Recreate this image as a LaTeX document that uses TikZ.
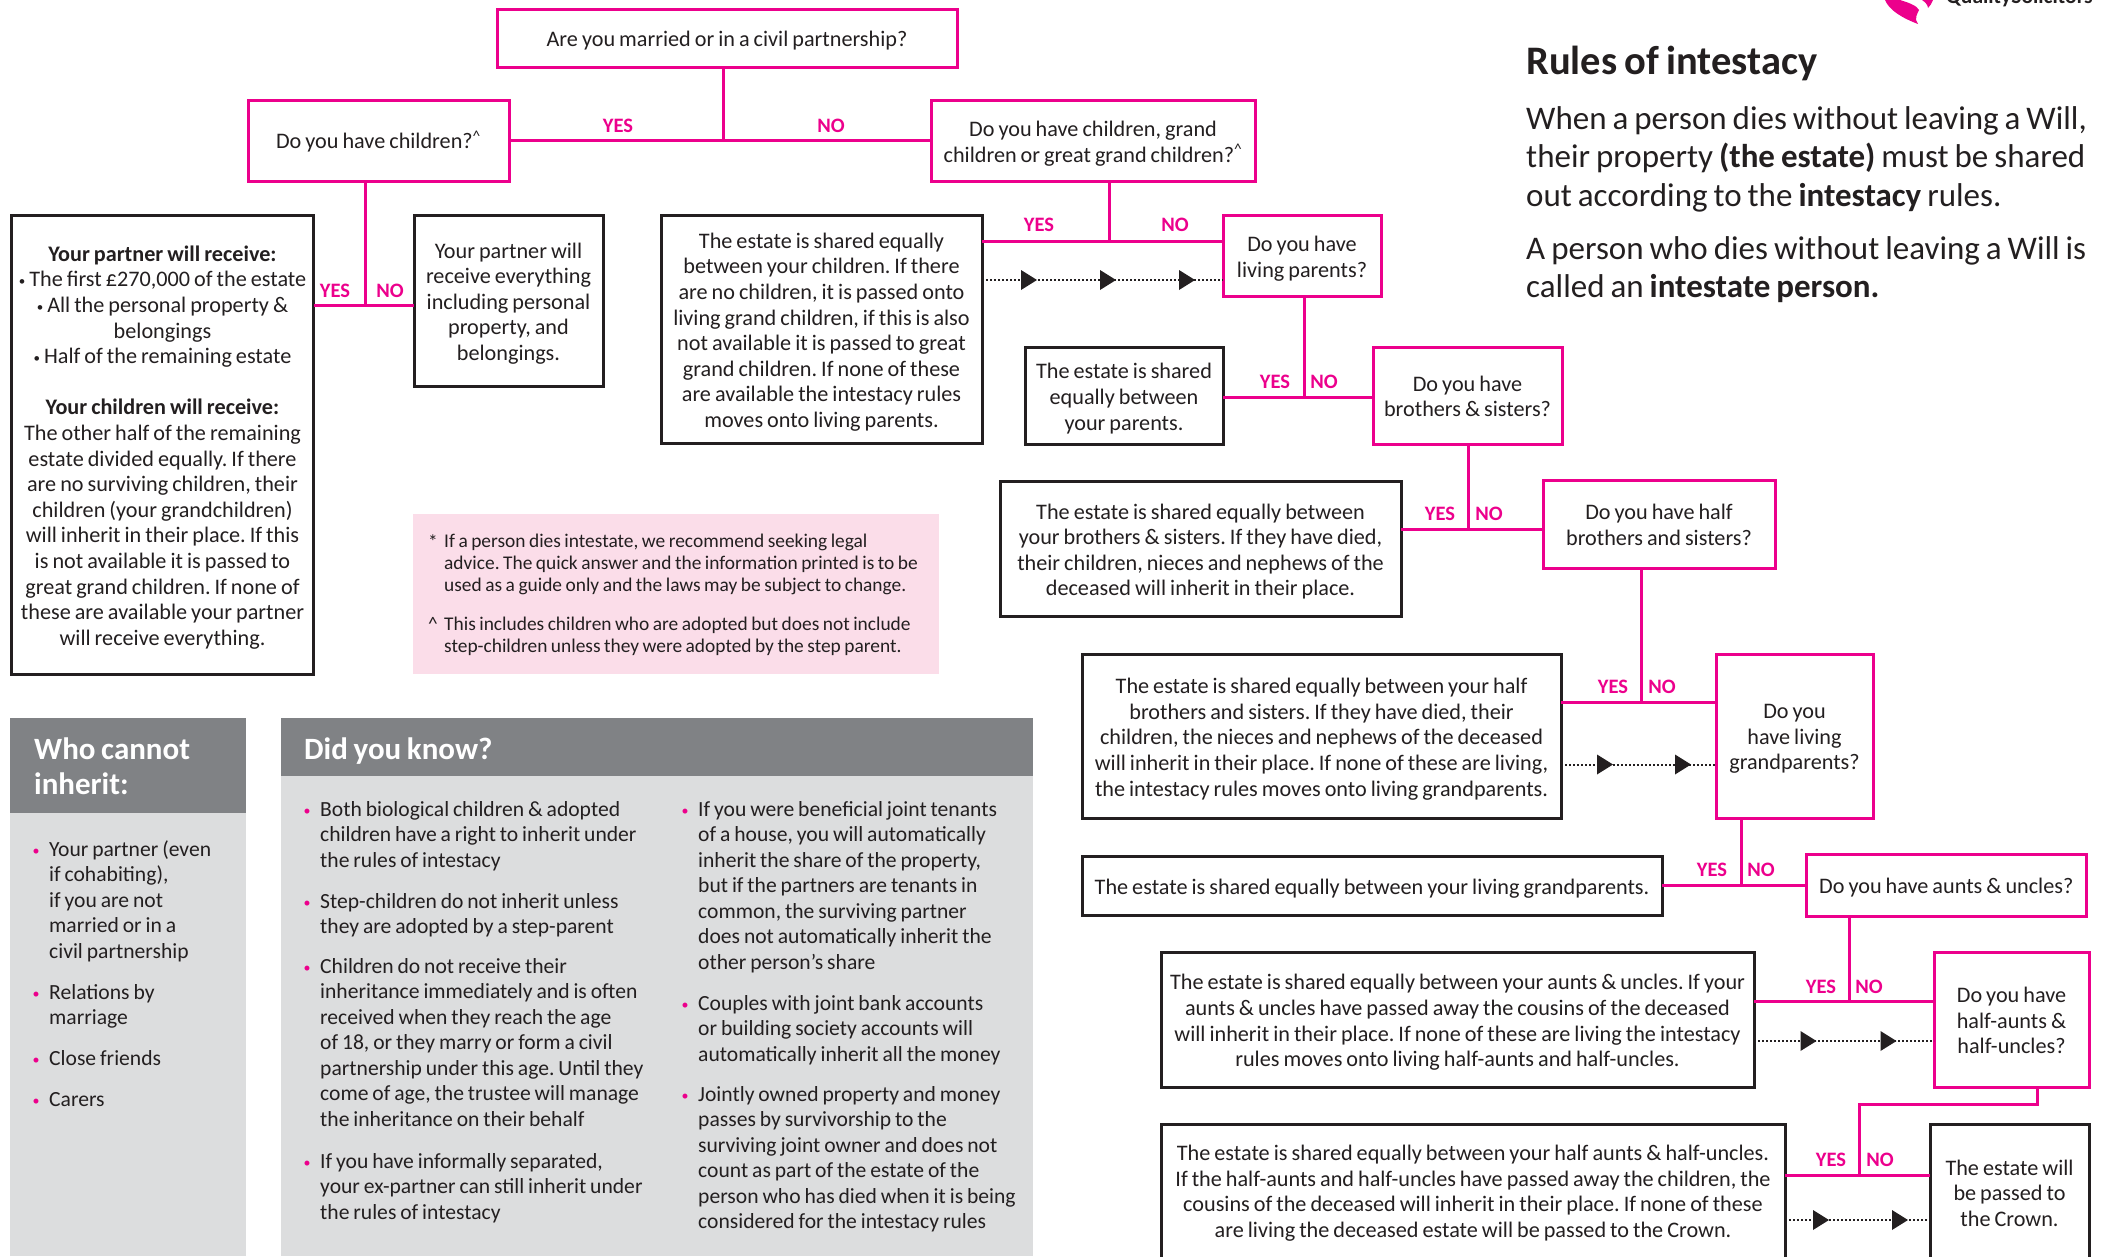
\documentclass[tikz,border=0pt]{standalone}
\usepackage{fontspec}
\setmainfont[WordSpace=0.8]{Carlito}
\AtBeginDocument{\frenchspacing}
\definecolor{qpink}{HTML}{EC008C}
\definecolor{ink}{HTML}{231F20}
\definecolor{greyhead}{HTML}{808285}
\definecolor{greybody}{HTML}{DCDDDE}
\definecolor{notepink}{HTML}{FBDDE9}
\newcommand\flow{\fontsize{22.2}{25.6}\selectfont}
\newcommand\sbul{\raisebox{1.5pt}{\fontsize{13}{13}\selectfont •}}
\tikzset{
  x=1pt,y=-1pt,
  base/.style={rectangle,inner sep=0pt,outer sep=0pt},
  qbox/.style={base,draw=qpink,line width=3pt,fill=white},
  abox/.style={base,draw=ink,line width=3pt,fill=white},
  btext/.style={inner sep=0pt,align=center,text=ink,font=\flow},
  conn/.style={draw=qpink,line width=3pt},
  dotl/.style={draw=ink,line width=2pt,dash pattern=on 2pt off 2pt},
  lab/.style={inner sep=0pt,text=qpink,font=\fontsize{20.5}{22}\selectfont\bfseries},
  li/.style={anchor=north west,inner sep=0pt,align=flush left,text=ink,font=\fontsize{21.6}{25.5}\selectfont},
  note/.style={anchor=north west,inner sep=0pt,align=left,text=ink,font=\fontsize{19.4}{21.8}\selectfont},
  body/.style={anchor=north west,inner sep=0pt,align=left,text=ink,font=\fontsize{33}{38.6}\selectfont},
  panelhead/.style={anchor=north west,inner sep=0pt,align=left,text=white,font=\fontsize{31}{35}\selectfont\bfseries},
}
% name, style, x1, y1, x2, y2, text
\newcommand\bx[7]{\node[#2,minimum width={(#5-#3)*1pt},minimum height={(#6-#4)*1pt}] (#1) at ({(#3+#5)/2},{(#4+#6)/2}) {};
  \node[btext] (#1t) at ({(#3+#5)/2},{(#4+#6)/2+3}) {#7};}
\newcommand\bxu[7]{\node[#2,minimum width={(#5-#3)*1pt},minimum height={(#6-#4)*1pt}] (#1) at ({(#3+#5)/2},{(#4+#6)/2}) {};
  \node[btext] (#1t) at ({(#3+#5)/2},{(#4+#6)/2+1}) {#7};}
\newcommand\tip[2]{\fill[ink] (#1,#2-10) -- (#1+16,#2) -- (#1,#2+10) -- cycle;}
\newcommand\lst[5]{\node[inner sep=0pt,text=qpink,font=\fontsize{14}{14}\selectfont] (#1b) at (#2,{#3+1}) {•};
  \node[li,text width=#5] (#1) at ({#2+13},{#3-13}) {\strut #4};}
\begin{document}
\begin{tikzpicture}
\useasboundingbox (0,0) rectangle (2110,1256);
\clip (0,0) rectangle (2110,1256);
% logo
\fill[qpink] (1885,0) .. controls (1889,10) and (1902,18) .. (1918,24) .. controls (1914,19) and (1917,14) .. (1919,10) .. controls (1917,6) and (1910,3) .. (1900,0) -- cycle;
\fill[qpink] (1922,0) -- (1933,0) .. controls (1932,3) and (1930,6) .. (1928,8) .. controls (1928,5) and (1925,2) .. (1922,0) -- cycle;
\node[anchor=base west,inner sep=0pt,text=ink,font=\fontsize{21.5}{23}\selectfont\bfseries] (logo) at (1946,3) {QualitySolicitors};

% panels
\fill[notepink] (413,514) rectangle (939,674);
\fill[greybody] (10,718) rectangle (246,1256);
\fill[greyhead] (10,718) rectangle (246,813);
\fill[greybody] (281,718) rectangle (1033,1256);
\fill[greyhead] (281,718) rectangle (1033,775.5);

% question boxes
\bx{top}{qbox}{497}{9}{957}{67}{Are you married or in a civil partnership?}
\bxu{kids}{qbox}{248}{100}{509}{181}{Do you have children?\textsuperscript{\^{}}}
\bx{qgc}{qbox}{931}{100}{1255}{181}{Do you have children, grand\\children or great grand children?\textsuperscript{\^{}}}
\bx{lp}{qbox}{1223}{215}{1381}{296}{Do you have\\living parents?}
\bxu{bs}{qbox}{1373}{347}{1562}{444}{Do you have\\brothers \& sisters?}
\bxu{hbs}{qbox}{1543}{480}{1775}{568}{Do you have half\\brothers and sisters?}
\bx{gp}{qbox}{1716}{654}{1873}{818}{Do you\\have living\\grandparents?}
\bx{au}{qbox}{1806.5}{854}{2086}{916}{Do you have aunts \& uncles?}
\bxu{hau}{qbox}{1934}{952}{2089}{1087}{Do you have\\half-aunts \&\\half-uncles?}

% answer boxes
\bx{partner}{abox}{11.5}{215}{313.5}{674}{\textbf{Your partner will receive:}\\\sbul{} The first £270,000 of the estate\\\sbul{} All the personal property \&\\belongings\\\sbul{} Half of the remaining estate\\[25.6pt]\textbf{Your children will receive:}\\The other half of the remaining\\estate divided equally. If there\\are no surviving children, their\\children (your grandchildren)\\will inherit in their place. If this\\is not available it is passed to\\great grand children. If none of\\these are available your partner\\will receive everything.}
\bx{every}{abox}{414}{215}{603}{386}{Your partner will\\receive everything\\including personal\\property, and\\belongings.}
\bx{est}{abox}{661}{215}{982}{443}{The estate is shared equally\\between your children. If there\\are no children, it is passed onto\\living grand children, if this is also\\not available it is passed to great\\grand children. If none of these\\are available the intestacy rules\\moves onto living parents.}
\bx{par}{abox}{1025}{347}{1223}{444}{The estate is shared\\equally between\\your parents.}
\bx{sib}{abox}{1000}{481}{1401}{616}{The estate is shared equally between\\your brothers \& sisters. If they have died,\\their children, nieces and nephews of the\\deceased will inherit in their place.}
\bx{hsib}{abox}{1082}{654}{1561}{818}{The estate is shared equally between your half\\brothers and sisters. If they have died, their\\children, the nieces and nephews of the deceased\\will inherit in their place. If none of these are living,\\the intestacy rules moves onto living grandparents.}
\bx{gpa}{abox}{1082}{856}{1662}{915}{The estate is shared equally between your living grandparents.}
\bx{aua}{abox}{1161}{952}{1754}{1087}{The estate is shared equally between your aunts \& uncles. If your\\aunts \& uncles have passed away the cousins of the deceased\\will inherit in their place. If none of these are living the intestacy\\rules moves onto living half-aunts and half-uncles.}
\bxu{haa}{abox}{1161}{1124}{1785}{1260}{The estate is shared equally between your half aunts \& half-uncles.\\If the half-aunts and half-uncles have passed away the children, the\\cousins of the deceased will inherit in their place. If none of these\\are living the deceased estate will be passed to the Crown.}
\bxu{crown}{abox}{1930}{1124}{2089}{1260}{The estate will\\be passed to\\the Crown.}

% junctions
\coordinate (j1) at (723,140);
\coordinate (j2) at (365,305);
\coordinate (j3) at (1109,241);
\coordinate (j4) at (1304,397);
\coordinate (j5) at (1468,529);
\coordinate (j6) at (1641,702);
\coordinate (j7) at (1741,885);
\coordinate (j8) at (1849,1001);
\coordinate (j9) at (1859,1175);
\coordinate (j9a) at (2037,1104);
% connectors
\draw[conn] (top.south -| j1) -- (j1);
\draw[conn] (kids.east |- j1) -- (qgc.west |- j1);
\draw[conn] (kids.south -| j2) -- (j2);
\draw[conn] (partner.east |- j2) -- (every.west |- j2);
\draw[conn] (qgc.south -| j3) -- (j3);
\draw[conn] (est.east |- j3) -- (lp.west |- j3);
\draw[conn] (lp.south -| j4) -- (j4);
\draw[conn] (par.east |- j4) -- (bs.west |- j4);
\draw[conn] (bs.south -| j5) -- (j5);
\draw[conn] (sib.east |- j5) -- (hbs.west |- j5);
\draw[conn] (hbs.south -| j6) -- (j6);
\draw[conn] (hsib.east |- j6) -- (gp.west |- j6);
\draw[conn] (gp.south -| j7) -- (j7);
\draw[conn] (gpa.east |- j7) -- (au.west |- j7);
\draw[conn] (au.south -| j8) -- (j8);
\draw[conn] (aua.east |- j8) -- (hau.west |- j8);
\draw[conn] (hau.south -| j9a) -- (j9a) -| (j9);
\draw[conn] (haa.east |- j9) -- (crown.west |- j9);

% dotted links
\coordinate (d1) at (0,280);
\coordinate (d2) at (0,764.5);
\coordinate (d3) at (0,1041);
\coordinate (d4) at (0,1220);
\draw[dotl] (est.east |- d1) -- (lp.west |- d1);
\tip{1021}{280}\tip{1100}{280}\tip{1179}{280}
\draw[dotl] (hsib.east |- d2) -- (gp.west |- d2);
\tip{1597}{764.5}\tip{1675}{764.5}
\draw[dotl] (aua.east |- d3) -- (hau.west |- d3);
\tip{1800.5}{1041}\tip{1880.5}{1041}
\draw[dotl] (haa.east |- d4) -- (crown.west |- d4);
\tip{1813}{1220}\tip{1892}{1220}

% yes/no
\node[lab] (y1) at (618,126) {YES};
\node[lab] (n1) at (831,126) {NO};
\node[lab] (y2) at (335,291) {YES};
\node[lab] (n2) at (390,291) {NO};
\node[lab] (y3) at (1039,225) {YES};
\node[lab] (n3) at (1175,225) {NO};
\node[lab] (y4) at (1275,382) {YES};
\node[lab] (n4) at (1324,382) {NO};
\node[lab] (y5) at (1440,513.5) {YES};
\node[lab] (n5) at (1489,513.5) {NO};
\node[lab] (y6) at (1613,687) {YES};
\node[lab] (n6) at (1662,687) {NO};
\node[lab] (y7) at (1712,869.5) {YES};
\node[lab] (n7) at (1761,869.5) {NO};
\node[lab] (y8) at (1821,986.5) {YES};
\node[lab] (n8) at (1869,986.5) {NO};
\node[lab] (y9) at (1831,1160) {YES};
\node[lab] (n9) at (1880,1160) {NO};

% heading block
\node[anchor=base west,inner sep=0pt,text=ink,font=\fontsize{40.5}{42}\selectfont\bfseries] (title) at (1526,74) {Rules of intestacy};
\node[body] (p1) at (1526,106) {When a person dies without leaving a Will,\\their property \textbf{(the estate)} must be shared\\out according to the \textbf{intestacy} rules.};
\node[body] (p2) at (1526,236) {A person who dies without leaving a Will is\\called an \textbf{intestate person.}};

% notes
\node[note] (s1) at (428,535) {*};
\node[note] (n1t) at (444,534) {If a person dies intestate, we recommend seeking legal\\advice. The quick answer and the information printed is to be\\used as a guide only and the laws may be subject to change.};
\node[note] (s2) at (428,617) {\^{}};
\node[note] (n2t) at (444,617) {This includes children who are adopted but does not include\\step-children unless they were adopted by the step parent.};

% panel headings
\node[panelhead] (who) at (34,738) {Who cannot\\inherit:};
\node[panelhead] (did) at (304,738) {Did you know?};

% lists
\lst{a1}{36}{851}{Your partner (even\\if cohabiting),\\if you are not\\married or in a\\civil partnership}{190pt}
\lst{a2}{36}{994}{Relations by\\marriage}{190pt}
\lst{a3}{36}{1060}{Close friends}{190pt}
\lst{a4}{36}{1101}{Carers}{190pt}
\lst{b1}{307}{811}{Both biological children \& adopted\\children have a right to inherit under\\the rules of intestacy}{360pt}
\lst{b2}{307}{903}{Step-children do not inherit unless\\they are adopted by a step-parent}{360pt}
\lst{b3}{307}{968}{Children do not receive their\\inheritance immediately and is often\\received when they reach the age\\of 18, or they marry or form a civil\\partnership under this age. Until they\\come of age, the trustee will manage\\the inheritance on their behalf}{360pt}
\lst{b4}{307}{1163}{If you have informally separated,\\your ex-partner can still inherit under\\the rules of intestacy}{360pt}
\lst{c1}{685}{811}{If you were beneficial joint tenants\\of a house, you will automatically\\inherit the share of the property,\\but if the partners are tenants in\\common, the surviving partner\\does not automatically inherit the\\other person’s share}{345pt}
\lst{c2}{685}{1005}{Couples with joint bank accounts\\or building society accounts will\\automatically inherit all the money}{345pt}
\lst{c3}{685}{1096}{Jointly owned property and money\\passes by survivorship to the\\surviving joint owner and does not\\count as part of the estate of the\\person who has died when it is being\\considered for the intestacy rules}{345pt}
\end{tikzpicture}
\end{document}
